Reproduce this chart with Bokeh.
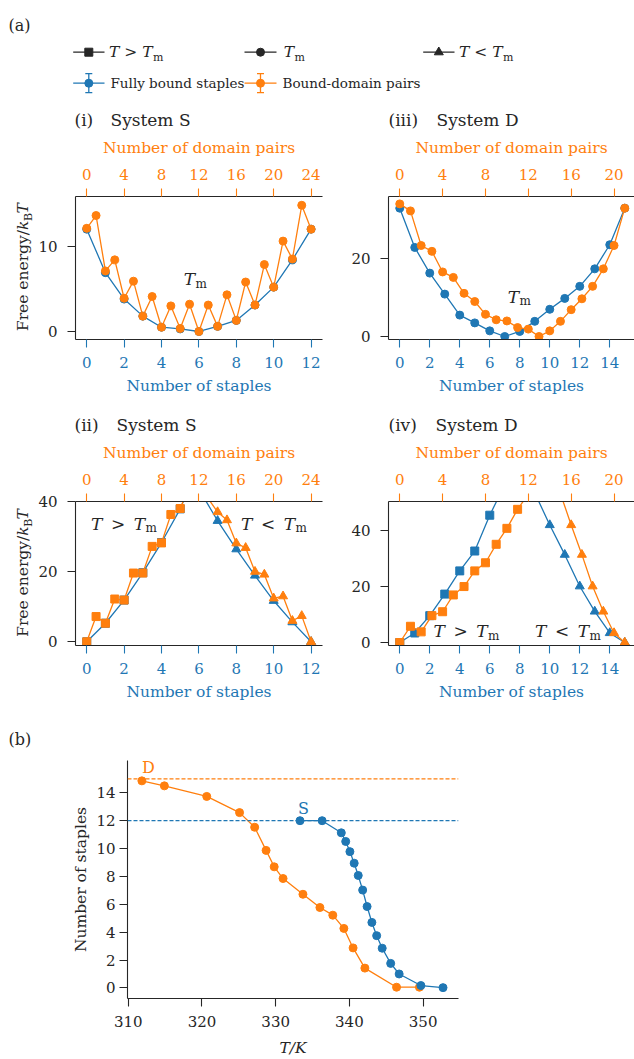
import math
from bokeh.plotting import figure
from bokeh.layouts import column, row
from bokeh.models import Range1d, LinearAxis, FixedTicker, Label, Span
from bokeh.embed import file_html
from bokeh.resources import INLINE
from bokeh.core.properties import value

BLUE = "#1f77b4"
ORANGE = "#ff7f0e"
INK = "#262626"
FONT = "DejaVu Serif"

# ---------------- data ----------------
# (i) System S at T_m
s_tm_staples = list(range(0, 13))
s_tm_staples_fe = [12.0, 6.9, 3.8, 1.8, 0.5, 0.3, 0.0, 0.6, 1.3, 3.1, 5.2, 8.4, 12.0]
s_tm_pairs = list(range(0, 25))
s_tm_pairs_fe = [12.1, 13.6, 7.1, 8.4, 3.9, 5.9, 1.8, 4.1, 0.5, 3.0, 0.35, 3.2, 0.0,
                 3.1, 0.6, 4.3, 1.3, 5.8, 3.1, 7.85, 5.2, 10.6, 8.5, 14.8, 12.0]

# (ii) System S above / below T_m
s_hot_staples = [0, 1, 2, 3, 4, 5, 6]
s_hot_staples_fe = [0.0, 5.3, 11.9, 19.7, 28.3, 37.9, 50.5]
s_hot_pairs = list(range(0, 12))
s_hot_pairs_fe = [0.0, 7.2, 5.3, 12.2, 11.9, 19.6, 19.6, 27.2, 28.2, 36.3, 38.0, 44.5]
s_cold_staples = [6, 7, 8, 9, 10, 11, 12]
s_cold_staples_fe = [43.5, 34.5, 26.4, 18.9, 11.7, 5.6, 0.0]
s_cold_pairs = list(range(12, 25))
s_cold_pairs_fe = [50.0, 40.8, 37.0, 34.7, 28.1, 26.8, 20.0, 19.2, 12.4, 13.0, 6.0, 7.4, 0.0]

# (iii) System D at T_m
d_tm_staples = list(range(0, 16))
d_tm_staples_fe = [33.0, 22.9, 16.3, 10.9, 5.5, 3.5, 1.45, 0.0, 1.3, 3.9, 7.0, 9.8,
                   12.9, 17.4, 23.6, 33.0]
d_tm_pairs = list(range(0, 22))
d_tm_pairs_fe = [34.1, 32.3, 23.4, 21.9, 16.6, 15.2, 11.1, 9.0, 5.7, 4.3, 4.0, 2.3,
                 1.9, 0.0, 1.45, 3.9, 6.9, 9.7, 12.9, 17.4, 23.4, 33.0]

# (iv) System D above / below T_m
d_hot_staples = [0, 1, 2, 3, 4, 5, 6, 7]
d_hot_staples_fe = [0.0, 3.4, 9.6, 17.3, 25.6, 32.7, 45.5, 56.4]
d_hot_pairs = list(range(0, 13))
d_hot_pairs_fe = [0.0, 5.8, 3.8, 9.6, 11.0, 17.0, 20.0, 25.6, 28.5, 35.1, 40.8, 47.6, 53.1]
d_cold_staples = [9, 10, 11, 12, 13, 14, 15]
d_cold_staples_fe = [53.5, 42.0, 31.4, 20.1, 11.1, 3.4, 0.0]
d_cold_pairs = [15, 16, 17, 18, 19, 20, 21]
d_cold_pairs_fe = [53.2, 42.0, 31.4, 20.1, 11.1, 3.4, 0.0]

# (b) melting curves
d_temp = [311.85, 314.9, 320.65, 325.1, 327.15, 328.7, 329.8, 331.0, 333.7, 336.0,
          337.75, 339.25, 340.5, 342.1, 346.4, 349.5]
d_bound = [14.86, 14.5, 13.74, 12.58, 11.53, 9.87, 8.69, 7.85, 6.72, 5.77, 5.22,
           4.27, 2.87, 1.42, 0.05, 0.05]
s_temp = [333.3, 336.3, 338.9, 339.5, 340.07, 340.65, 341.2, 341.8, 342.4, 343.05,
          343.7, 344.45, 345.6, 346.75, 349.7, 352.7]
s_bound = [12.0, 12.0, 11.13, 10.51, 9.78, 8.95, 8.07, 7.02, 5.84, 4.70, 3.75, 2.85,
           1.76, 1.0, 0.17, 0.02]
systems = ["S", "D"]
total_staples = [12, 15]

s_staple_ticks = [0, 2, 4, 6, 8, 10, 12]
s_pair_ticks = [0, 4, 8, 12, 16, 20, 24]
d_staple_ticks = [0, 2, 4, 6, 8, 10, 12, 14]
d_pair_ticks = [0, 4, 8, 12, 16, 20]
temp_ticks = [310, 320, 330, 340, 350]
bound_ticks = [0, 2, 4, 6, 8, 10, 12, 14]

S_FACTOR = (len(s_tm_pairs) - 1) / (len(s_tm_staples) - 1)
D_FACTOR = (len(d_tm_pairs) - 1) / (len(d_tm_staples) - 1)

TICK = "15px"
LAB = "15.5px"
EN = "\u2002"
YLAB_W = 35


def style_axis(ax, color, s1, s2):
    ax.axis_line_color = INK
    ax.axis_line_width = 1.1
    ax.major_tick_line_color = color
    ax.major_tick_line_width = 1.1
    ax.major_tick_out = 8
    ax.major_tick_in = 0
    ax.minor_tick_line_color = None
    ax.major_label_text_font = FONT
    ax.major_label_text_font_size = TICK
    ax.major_label_text_color = color
    ax.major_label_standoff = s1
    ax.axis_label_text_font = FONT
    ax.axis_label_text_font_size = LAB
    ax.axis_label_text_font_style = "normal"
    ax.axis_label_text_color = color
    ax.axis_label_standoff = s2


def make_panel(width, height, mb, xr, yr, factor, sticks, pticks, yticks):
    left, right, top, bottom = mb
    p = figure(width=width, height=height, x_range=Range1d(*xr), y_range=Range1d(*yr),
               output_backend="svg", toolbar_location=None,
               min_border_left=left, min_border_right=right,
               min_border_top=top, min_border_bottom=bottom)
    p.outline_line_color = None
    p.xgrid.visible = False
    p.ygrid.visible = False
    p.extra_x_ranges = {"pairs": Range1d(xr[0] * factor, xr[1] * factor)}
    xb = p.xaxis[0]
    yl = p.yaxis[0]
    xb.ticker = FixedTicker(ticks=sticks)
    xb.axis_label = "Number of staples"
    yl.ticker = FixedTicker(ticks=yticks)
    xt = LinearAxis(x_range_name="pairs", ticker=FixedTicker(ticks=pticks),
                    axis_label="Number of domain pairs")
    p.add_layout(xt, "above")
    style_axis(xb, BLUE, 9, 6)
    style_axis(xt, ORANGE, 9, 9)
    style_axis(yl, INK, 10, 0)
    return p


def canvas_fig(width, height, x0, y_top, mb=(0, 0, 0, 0)):
    """Axis-free strip whose data units are page pixels."""
    left, right, top, bottom = mb
    fx0 = x0 + left
    fx1 = x0 + width - right
    fy0 = y_top + top
    fy1 = y_top + height - bottom
    p = figure(width=width, height=height, x_range=Range1d(fx0, fx1), y_range=Range1d(fy1, fy0),
               x_axis_type=None, y_axis_type=None, output_backend="svg",
               toolbar_location=None, min_border_left=left, min_border_right=right,
               min_border_top=top, min_border_bottom=bottom)
    p.outline_line_color = None
    return p


def txt(p, x, y, text, size, color=INK, style="normal", align="left", angle=0.0):
    p.text(x=[x], y=[y], text=[text], text_font=value(FONT), text_font_size=f"{size}px",
           text_font_style=style, text_color=color, text_align=align,
           text_baseline="middle", angle=angle)


def label(p, FL, FB, cx, cy, text, size, color=INK, style="normal", align="left"):
    p.add_layout(Label(x=cx - FL, y=FB - cy, x_units="screen", y_units="screen", text=text,
                       text_font=FONT, text_font_size=f"{size}px", text_font_style=style,
                       text_color=color, text_align=align, text_baseline="middle"))


def sub_text(p, FL, FB, jx, cy, main, size=17, color=INK):
    label(p, FL, FB, jx, cy, main, size, color, "italic", "right")
    label(p, FL, FB, jx + 0.5, cy + 4.5, "m", 12, color, "normal", "left")


def fe_label(p, FB, FT):
    jy = (FB + FT) / 2 - 38
    bx = 22.5
    a = math.pi / 2
    txt(p, bx, jy, "Free energy/", 15.5, INK, "normal", "right", a)
    txt(p, bx, jy, "k", 15.5, INK, "italic", "left", a)
    txt(p, bx + 5, jy - 9.0, "B", 11, INK, "normal", "left", a)
    txt(p, bx, jy - 16.5, "T", 15.5, INK, "italic", "left", a)


def curve(p, x, y, color, marker, size, rng=None):
    kw = {"x_range_name": rng} if rng else {}
    p.line(x, y, line_color=color, line_width=1.3, **kw)
    p.scatter(x, y, marker=marker, size=size, fill_color=color, line_color=color, **kw)


# ---------------- legend strip + first titles (page y 0..133) ----------------
leg = canvas_fig(634, 133, 0, 0)
txt(leg, 8, 25, "(a)", 16)
r1, r2 = 51.7, 82.7
leg.segment(x0=[72.7, 244, 422.7], y0=[r1] * 3, x1=[104, 276, 454], y1=[r1] * 3,
            line_color=INK, line_width=1.3)
leg.scatter(x=[88.3], y=[r1], marker="square", size=8, color=INK)
leg.scatter(x=[260], y=[r1], marker="circle", size=8, color=INK)
leg.scatter(x=[438.3], y=[r1], marker="triangle", size=9, color=INK)
for jx, main in [(152, "T > T"), (293.5, "T"), (502, "T < T")]:
    txt(leg, jx, r1, main, 15.5, INK, "italic", "right")
    txt(leg, jx + 0.5, r1 + 5, "m", 11)
for xc, x0, x1, col in [(88.3, 72.7, 104, BLUE), (260, 244, 276, ORANGE)]:
    leg.segment(x0=[x0], y0=[r2], x1=[x1], y1=[r2], line_color=col, line_width=1.3)
    leg.segment(x0=[xc, xc - 3.5, xc - 3.5], y0=[r2 - 9.5, r2 - 9.5, r2 + 9.5],
                x1=[xc, xc + 3.5, xc + 3.5], y1=[r2 + 9.5, r2 - 9.5, r2 + 9.5],
                line_color=col, line_width=1.3)
    leg.scatter(x=[xc], y=[r2], marker="circle", size=8, color=col)
txt(leg, 110, r2, "Fully bound staples", 13.5)
txt(leg, 282, r2, "Bound-domain pairs", 13.5)
txt(leg, 74, 119, "(i)", 17)
txt(leg, 110, 119, "System S", 17)
txt(leg, 388, 119, "(iii)", 17)
txt(leg, 436, 119, "System D", 17)

# ---------------- row 1 (page y 133..400) ----------------
yl1 = canvas_fig(YLAB_W, 267, 0, 133, (0, 0, 63, 61))
fe_label(yl1, 339, 196)

p1 = make_panel(330 - YLAB_W, 267, (74 - YLAB_W, 8, 63, 61), (-0.60, 12.61), (-0.94, 15.83),
                S_FACTOR, s_staple_ticks, s_pair_ticks, [0, 10])
curve(p1, s_tm_staples, s_tm_staples_fe, BLUE, "circle", 8)
curve(p1, s_tm_pairs, s_tm_pairs_fe, ORANGE, "circle", 8, "pairs")
sub_text(p1, 74, 339, 193.5, 278.7, "T")

p3 = make_panel(304, 267, (58, 0, 63, 61), (-0.75, 15.65), (-0.77, 36.0), D_FACTOR,
                d_staple_ticks, d_pair_ticks, [0, 20])
curve(p3, d_tm_staples, d_tm_staples_fe, BLUE, "circle", 8)
curve(p3, d_tm_pairs, d_tm_pairs_fe, ORANGE, "circle", 8, "pairs")
sub_text(p3, 388, 339, 518.5, 296, "T")

# ---------------- titles of row 2 (page y 400..440) ----------------
t2 = canvas_fig(634, 40, 0, 400)
txt(t2, 74, 424.5, "(ii)", 17)
txt(t2, 116, 424.5, "System S", 17)
txt(t2, 388, 424.5, "(iv)", 17)
txt(t2, 435, 424.5, "System D", 17)

# ---------------- row 2 (page y 440..705) ----------------
yl2 = canvas_fig(YLAB_W, 265, 0, 440, (0, 0, 60, 60))
fe_label(yl2, 645, 500)

p2 = make_panel(330 - YLAB_W, 265, (74 - YLAB_W, 8, 60, 60), (-0.60, 12.61), (-1.05, 40.0),
                S_FACTOR, s_staple_ticks, s_pair_ticks, [0, 20, 40])
curve(p2, s_hot_staples, s_hot_staples_fe, BLUE, "square", 8)
curve(p2, s_cold_staples, s_cold_staples_fe, BLUE, "triangle", 9)
curve(p2, s_hot_pairs, s_hot_pairs_fe, ORANGE, "square", 8, "pairs")
curve(p2, s_cold_pairs, s_cold_pairs_fe, ORANGE, "triangle", 9, "pairs")
sub_text(p2, 74, 645, 143.5, 523, "T" + EN + ">" + EN + "T")
sub_text(p2, 74, 645, 293.5, 523, "T" + EN + "<" + EN + "T")

p4 = make_panel(304, 265, (58, 0, 60, 60), (-0.75, 15.65), (-1.07, 50.4), D_FACTOR,
                d_staple_ticks, d_pair_ticks, [0, 20, 40])
curve(p4, d_hot_staples, d_hot_staples_fe, BLUE, "square", 8)
curve(p4, d_cold_staples, d_cold_staples_fe, BLUE, "triangle", 9)
curve(p4, d_hot_pairs, d_hot_pairs_fe, ORANGE, "square", 8, "pairs")
curve(p4, d_cold_pairs, d_cold_pairs_fe, ORANGE, "triangle", 9, "pairs")
sub_text(p4, 388, 645, 487, 630.5, "T" + EN + ">" + EN + "T")
sub_text(p4, 388, 645, 588.5, 630.5, "T" + EN + "<" + EN + "T")

# ---------------- "(b)" strip (page y 705..755) ----------------
t3 = canvas_fig(634, 50, 0, 705)
txt(t3, 8, 739, "(b)", 16)

# ---------------- panel (b) (page y 755..1059) ----------------
pb = figure(width=634, height=304, x_range=Range1d(309.9, 354.8), y_range=Range1d(-0.76, 16.32),
            output_backend="svg", toolbar_location=None,
            min_border_left=127, min_border_right=176, min_border_top=5, min_border_bottom=59)
pb.outline_line_color = None
pb.xgrid.visible = False
pb.ygrid.visible = False
pb.xaxis[0].ticker = FixedTicker(ticks=temp_ticks)
pb.yaxis[0].ticker = FixedTicker(ticks=bound_ticks)
pb.xaxis[0].axis_label = "T/K"
pb.yaxis[0].axis_label = "Number of staples"
style_axis(pb.xaxis[0], INK, 9, 9)
style_axis(pb.yaxis[0], INK, 4, 3)
pb.xaxis[0].axis_label_text_font_style = "italic"
for name, tot, col in zip(systems, total_staples, [BLUE, ORANGE]):
    pb.add_layout(Span(location=tot, dimension="width", line_color=col, line_width=1.2,
                       line_dash="4 2"))
curve(pb, d_temp, d_bound, ORANGE, "circle", 8)
curve(pb, s_temp, s_bound, BLUE, "circle", 8)
label(pb, 127, 1000, 141.5, 769, "D", 16, ORANGE)
label(pb, 127, 1000, 297.5, 809.5, "S", 16, BLUE)

layout = column(row(leg), row(yl1, p1, p3), row(t2), row(yl2, p2, p4), row(t3), row(pb))
open("out.html", "w").write(file_html(layout, INLINE))
